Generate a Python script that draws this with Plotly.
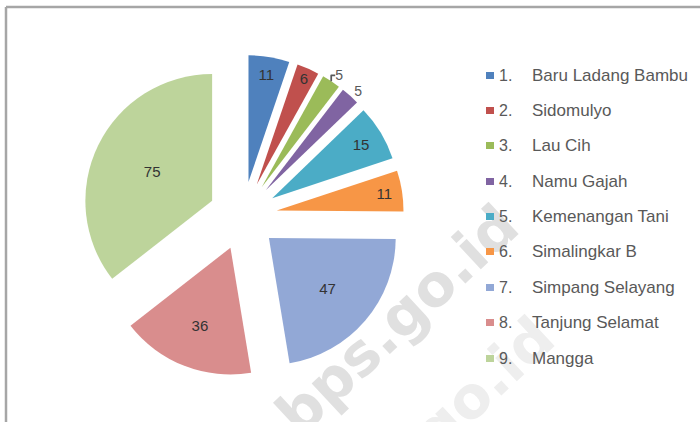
import plotly.graph_objects as go

# ---- data ----
numbers = ["1.", "2.", "3.", "4.", "5.", "6.", "7.", "8.", "9."]
names = ["Baru Ladang Bambu", "Sidomulyo", "Lau Cih", "Namu Gajah", "Kemenangan Tani",
         "Simalingkar B", "Simpang Selayang", "Tanjung Selamat", "Mangga"]
values = [11, 6, 5, 5, 15, 11, 47, 36, 75]

colors = ["#4F81BD", "#C0504D", "#9BBB59", "#8064A2", "#4BACC6", "#F79646",
          "#92A8D6", "#D98D8D", "#BDD49B"]
text_pos = ["inside", "inside", "outside", "outside", "inside", "inside",
            "inside", "inside", "inside"]

W, H = 700, 422

fig = go.Figure()
fig.add_trace(go.Pie(
    labels=names,
    values=values,
    sort=False,
    direction="clockwise",
    rotation=0,
    pull=[0.27] * len(values),
    marker=dict(colors=colors, line=dict(width=0)),
    textinfo="value",
    textposition=text_pos,
    insidetextorientation="horizontal",
    insidetextfont=dict(family="Liberation Sans", size=15, color="#333333"),
    outsidetextfont=dict(family="Liberation Sans", size=14, color="#595959"),
    domain=dict(x=[0.117, 0.577], y=[0.107, 0.870]),
    showlegend=False,
    hoverinfo="label+value",
))

shapes = []
annotations = []

# watermark (first, so that the legend sits on top of it)
annotations.append(dict(x=397 / W, y=1 - 320 / H, xref="paper", yref="paper",
                        xanchor="center", yanchor="middle",
                        text="<b>bps.go.id</b>", showarrow=False, textangle=-43,
                        font=dict(family="DejaVu Sans", size=58, color="#E0E0E0")))
annotations.append(dict(x=433 / W, y=1 - 432 / H, xref="paper", yref="paper",
                        xanchor="center", yanchor="middle",
                        text="<b>bps.go.id</b>", showarrow=False, textangle=-43,
                        font=dict(family="DejaVu Sans", size=58, color="#EEEEEE")))

# legend drawn as annotations (colour boxes + labels)
y0 = 75
dy = 35.4
for i, (num, nm, c) in enumerate(zip(numbers, names, colors)):
    yc = y0 + dy * i
    annotations.append(dict(x=490 / W, y=1 - yc / H, xref="paper", yref="paper",
                            text=" ", showarrow=False, xanchor="center", yanchor="middle",
                            width=8, height=7, bgcolor=c, borderpad=0, borderwidth=0,
                            font=dict(size=4)))
    annotations.append(dict(x=497 / W, y=1 - yc / H, xref="paper", yref="paper",
                            text=num, showarrow=False, xanchor="left", yanchor="middle",
                            font=dict(family="Liberation Sans", size=16, color="#595959")))
    annotations.append(dict(x=530 / W, y=1 - yc / H, xref="paper", yref="paper",
                            text=nm, showarrow=False, xanchor="left", yanchor="middle",
                            font=dict(family="Liberation Sans", size=17, color="#595959")))

# frame lines (top and left border of the chart area)
shapes.append(dict(type="line", xref="paper", yref="paper",
                   x0=6 / W, x1=1, y0=1 - 7 / H, y1=1 - 7 / H,
                   line=dict(color="#A6A6A6", width=2.5)))
shapes.append(dict(type="line", xref="paper", yref="paper",
                   x0=6 / W, x1=6 / W, y0=0, y1=1 - 7 / H,
                   line=dict(color="#A6A6A6", width=2.5)))

fig.update_layout(
    width=W, height=H,
    margin=dict(l=0, r=0, t=0, b=0, autoexpand=False),
    paper_bgcolor="white",
    plot_bgcolor="white",
    shapes=shapes,
    annotations=annotations,
)

fig.write_html("out.html")
